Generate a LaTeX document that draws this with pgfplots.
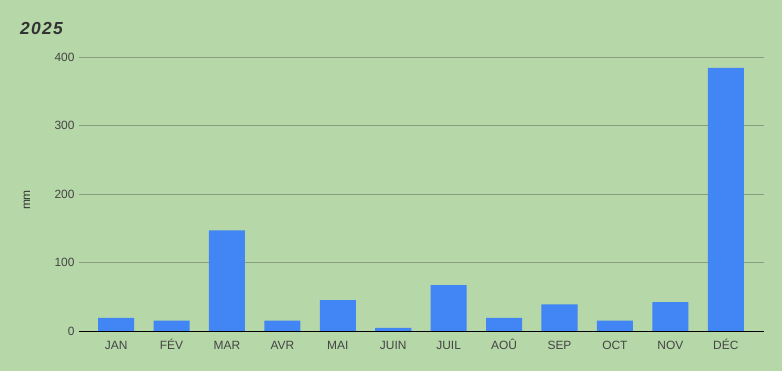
\documentclass[border=0pt]{standalone}
\usepackage{fontspec}
\setmainfont{Liberation Sans}
\usepackage{pgfplots}
\pgfplotsset{compat=1.18}
\definecolor{bg}{HTML}{B6D7A8}
\definecolor{barc}{HTML}{4285F4}
\definecolor{gridc}{HTML}{889E80}
\definecolor{txt}{HTML}{444444}
\definecolor{ttl}{HTML}{333333}
\begin{document}
\begin{tikzpicture}[x=1bp,y=1bp]
\fill[bg] (0,0) rectangle (782,371);
\path[use as bounding box] (0,0) rectangle (782,371);
\node[anchor=west,inner sep=0pt,font=\fontsize{17.5}{20}\selectfont\bfseries\itshape,text=ttl] at (20,343) {2\kern1.3bp0\kern1.3bp2\kern1.3bp5};
\node[rotate=90,font=\fontsize{12}{14}\selectfont,text=ttl] at (27,171) {mm};
\begin{axis}[
  at={(79bp,40bp)}, anchor=south west,
  scale only axis, width=685bp, height=274bp,
  ymin=0, ymax=400,
  xmin=-0.67, xmax=11.69,
  ytick={0,100,200,300,400},
  xtick={0,...,11},
  xticklabels={JAN,FÉV,MAR,AVR,MAI,JUIN,JUIL,AOÛ,SEP,OCT,NOV,DÉC},
  xmajorgrids=false, ymajorgrids=true,
  major grid style={draw=gridc, line width=0.8pt},
  axis line style={draw=none},
  tick style={draw=none},
  ticklabel style={font=\fontsize{12}{14}\selectfont, text=txt},
  /pgf/number format/assume math mode=true,
  yticklabel style={xshift=-1bp},
  xticklabel style={anchor=north, text height=9bp, text depth=0pt, yshift=-2bp},
  ybar, bar width=0.65,
  clip=false,
]
\addplot[fill=barc, draw=none] coordinates {
(0,19) (1,15) (2,147) (3,15) (4,45) (5,4.5) (6,67) (7,19) (8,39) (9,15) (10,42) (11,384)};
\draw[black, line width=0.9pt] (axis cs:-0.67,0) -- (axis cs:11.69,0);
\end{axis}
\end{tikzpicture}
\end{document}
